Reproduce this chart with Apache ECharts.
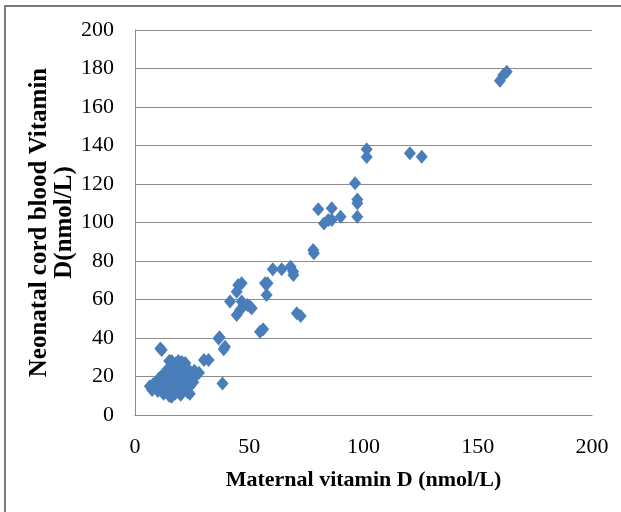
<!DOCTYPE html>
<html>
<head>
<meta charset="utf-8">
<script src="https://cdn.jsdelivr.net/npm/echarts@6/dist/echarts.min.js"></script>
<style>
html,body{margin:0;padding:0;background:#fff;}
#chart{width:621px;height:512px;}
</style>
</head>
<body>
<div id="chart"></div>
<script>
// Maternal vitamin D (x) vs neonatal cord blood vitamin D (y), nmol/L
var maternal = [
  6.5, 7.5, 8, 9, 9.5, 10, 10.5, 11, 11.5, 12, 12, 12.5, 13, 13, 13.5, 14, 14, 14.5, 15, 15, 15, 15, 15.5, 16, 16, 16, 16.5, 17, 17, 17, 17.5, 18, 18, 18.5, 19, 19, 19.5, 20, 20, 20, 20.5, 21, 21, 21.5, 22, 22, 22.5, 23, 23, 23.5, 24, 24, 24.5, 25, 25.5, 26, 27, 28, 18, 20, 19, 16, 20.5,
  11.1, 11.7, 30.2, 32.2, 36.6, 37, 38.8, 39.4, 38.3,
  41.6, 44.5, 45.2, 46.7, 44.5, 46, 46.7, 47.5, 49.2, 50.3, 51.1, 56.9, 57.6, 58, 54.7, 56.1,
  60.3, 64.2, 68.1, 69.3, 69.2, 70.8, 72.5,
  78, 78.3, 80.2, 82.7, 84.6, 86.1, 86.1, 90, 96.3, 97.3, 97.3, 97.3, 101.4, 101.4,
  120.3, 125.5, 159.7, 161.2, 162.7
];
var neonatal = [
  15, 13, 16, 14, 17, 12.5, 19, 15, 20, 13, 17, 11, 19, 22, 15, 12, 18, 24, 10, 14, 21, 28, 16, 9.5, 12, 19, 23, 14, 17, 26, 11, 20, 15, 22, 12, 18, 25, 14, 10.5, 21, 17, 23, 13, 19, 27, 16, 21, 12, 24, 18, 15, 11, 22, 20, 17, 23, 21, 22, 27, 25, 28, 28, 27.5,
  34.6, 33.8, 28.6, 28.6, 39.8, 40.4, 34.1, 35.5, 16.3,
  58.9, 52, 67.5, 68.4, 64, 54.5, 58.9, 57.1, 57.1, 56.3, 55.4, 68.4, 62.3, 68.4, 43.3, 44.5,
  75.7, 75.7, 77, 72.7, 74.5, 52.8, 51.4,
  85.7, 84, 106.9, 99.5, 101.3, 107.4, 101.3, 103, 120.4, 112, 110, 103, 138, 134,
  136, 134.2, 173.7, 176.6, 178.3
];
var xTicks = [0, 50, 100, 150, 200];
var yTicks = [0, 20, 40, 60, 80, 100, 120, 140, 160, 180, 200];

var points = maternal.map(function (x, i) { return [x, neonatal[i]]; });

var chart = echarts.init(document.getElementById('chart'), null, {renderer: 'canvas'});
var serif = '"Liberation Serif", "Times New Roman", serif';
chart.setOption({
  animation: false,
  backgroundColor: '#ffffff',
  grid: {left: 135, right: 29, top: 30, bottom: 97, containLabel: false},
  xAxis: {
    type: 'value',
    min: xTicks[0], max: xTicks[xTicks.length - 1], interval: 50,
    name: 'Maternal vitamin D (nmol/L)',
    nameLocation: 'middle',
    nameGap: 54,
    nameMoveOverlap: false,
    nameTextStyle: {fontFamily: serif, fontWeight: 'bold', fontSize: 22, color: '#000'},
    axisLine: {show: true, lineStyle: {color: '#8c8c8c', width: 1}},
    axisTick: {show: false},
    splitLine: {show: false},
    axisLabel: {fontFamily: serif, fontSize: 22, color: '#000', margin: 21}
  },
  yAxis: {
    type: 'value',
    min: yTicks[0], max: yTicks[yTicks.length - 1], interval: 20,
    name: 'Neonatal cord blood Vitamin\nD(nmol/L)',
    nameLocation: 'middle',
    nameRotate: 90,
    nameGap: 58,
    nameMoveOverlap: false,
    nameTextStyle: {fontFamily: serif, fontWeight: 'bold', fontSize: 25, color: '#000', lineHeight: 25},
    axisLine: {show: true, lineStyle: {color: '#8c8c8c', width: 1}},
    axisTick: {show: false},
    splitLine: {show: true, lineStyle: {color: '#8c8c8c', width: 1}},
    axisLabel: {fontFamily: serif, fontSize: 22, color: '#000', margin: 21}
  },
  graphic: [{
    type: 'rect',
    shape: {x: 5, y: 6, width: 700, height: 600},
    style: {fill: 'none', stroke: '#7a7a7a', lineWidth: 2},
    silent: true
  }],
  series: [{
    type: 'scatter',
    data: points,
    symbol: 'diamond',
    symbolSize: [12, 14],
    itemStyle: {color: '#4a7ebb', opacity: 1}
  }]
});
</script>
</body>
</html>
